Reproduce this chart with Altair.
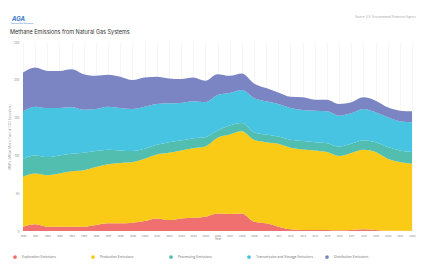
import altair as alt
import pandas as pd

years = list(range(1990, 2023))
series = ["Exploration Emissions", "Production Emissions", "Processing Emissions",
          "Transmission and Storage Emissions", "Distribution Emissions"]
colors = ["#F07070", "#F9CA16", "#52BEB0", "#46C4E2", "#7C85C4"]

exploration = [5.7, 8.8, 5.7, 5.7, 5.7, 5.7, 7.9, 10.1, 10.1, 11.0, 13.2, 16.7, 14.5, 16.7, 17.5,
               18.9, 23.2, 22.4, 23.2, 12.3, 10.1, 5.7, 2.2, 1.3, 1.3, 1.3, 0.9, 1.3, 2.2, 1.3,
               0.4, 0.4, 0.4]
production = [65.8, 67.1, 68.0, 70.2, 73.2, 74.6, 76.7, 78.1, 79.8, 80.2, 82.4, 84.6, 89.0, 89.9,
              92.1, 92.9, 100.0, 105.2, 108.8, 108.3, 107.4, 109.7, 107.9, 106.6, 105.3, 103.1,
              98.2, 101.8, 105.3, 103.1, 95.2, 90.8, 88.6]
processing = [24.1, 24.1, 24.1, 24.1, 23.3, 23.2, 21.1, 19.3, 16.7, 14.5, 13.2, 12.7, 14.0, 13.1,
              13.2, 12.3, 9.7, 11.9, 11.0, 10.1, 10.1, 9.6, 10.5, 11.0, 10.9, 11.8, 12.7, 12.3,
              12.2, 13.1, 15.4, 15.4, 15.4]
transmission = [62.7, 64.5, 64.9, 62.7, 61.4, 57.0, 55.7, 57.0, 56.1, 55.7, 55.7, 54.0, 51.4, 49.6,
                48.7, 46.1, 46.9, 43.0, 43.4, 45.2, 43.9, 43.0, 42.1, 41.2, 41.7, 42.1, 40.8, 40.3,
                41.7, 39.5, 39.4, 38.6, 39.5]
distribution = [51.3, 51.7, 49.1, 49.1, 50.4, 47.0, 43.9, 42.1, 41.3, 38.2, 38.5, 36.0, 32.8, 31.6,
                31.5, 28.5, 27.7, 22.8, 21.9, 19.3, 17.5, 15.3, 14.9, 16.7, 14.5, 15.4, 15.4, 14.5,
                15.4, 15.4, 13.2, 14.0, 14.4]

rows = []
for i, (name, vals) in enumerate(zip(series, [exploration, production, processing,
                                              transmission, distribution])):
    for y, v in zip(years, vals):
        rows.append({"Year": y, "Source": name, "Value": v, "idx": i})
df = pd.DataFrame(rows)

FONT = "Inter"

area = alt.Chart(df).mark_area(interpolate="monotone", opacity=1).encode(
    x=alt.X("Year:Q", scale=alt.Scale(domain=[1990, 2022], nice=False, zero=False),
            axis=alt.Axis(values=years, format="d", labelFontSize=2.6, labelColor="#888",
                          labelOverlap=False, labelFlush=False,
                          tickSize=0, domain=False, grid=True, gridColor="#EDEDED",
                          gridWidth=0.5, labelPadding=3, title="Year", titleFontSize=3,
                          titleFontWeight="normal", titleColor="#888", titlePadding=1,
                          labelFont=FONT, titleFont=FONT)),
    y=alt.Y("Value:Q", stack="zero", scale=alt.Scale(domain=[0, 250], nice=False),
            axis=alt.Axis(values=[0, 50, 100, 150, 200, 250], labelFontSize=3,
                          labelColor="#888", tickSize=0, domain=False, grid=False,
                          labelPadding=4, title="MMTs (Million Metric Tons of CO2 Equivalent)",
                          titleFontSize=3, titleFontWeight="normal", titleColor="#999",
                          titlePadding=2, labelFont=FONT, titleFont=FONT)),
    color=alt.Color("Source:N", scale=alt.Scale(domain=series, range=colors),
                    legend=alt.Legend(orient="none", legendX=-10, legendY=213,
                                      direction="horizontal", columns=5, title=None,
                                      symbolType="circle", symbolSize=14, symbolStrokeWidth=0,
                                      labelFontSize=3.3, labelColor="#777", labelFont=FONT,
                                      columnPadding=12, gridAlign="all", labelOffset=5,
                                      labelLimit=200)),
    order=alt.Order("idx:Q", sort="ascending"),
)

title_df = pd.DataFrame({"t": ["Methane Emissions from Natural Gas Systems"]})
title = alt.Chart(title_df).mark_text(align="left", baseline="middle", fontSize=5.5,
                                      color="#333333", font=FONT).encode(
    x=alt.value(-13), y=alt.value(-10), text="t:N")

ann = pd.DataFrame({"t": ["Source: U.S. Environmental Protection Agency"]})
source = alt.Chart(ann).mark_text(align="right", baseline="middle", fontSize=2.8,
                                  color="#AAAAAA", font=FONT).encode(
    x=alt.value(393), y=alt.value(-25.5), text="t:N")

logo_df = pd.DataFrame({"t": ["AGA"]})
logo = alt.Chart(logo_df).mark_text(align="left", baseline="middle", fontSize=6,
                                    fontStyle="italic", fontWeight="bold", color="#3A78C4",
                                    font=FONT).encode(
    x=alt.value(-11), y=alt.value(-23), text="t:N")
logo_sub_df = pd.DataFrame({"t": ["American Gas Association"]})
logo_sub = alt.Chart(logo_sub_df).mark_text(align="left", baseline="middle", fontSize=1.8,
                                            color="#3A78C4", font=FONT).encode(
    x=alt.value(-12), y=alt.value(-19.5), text="t:N")

chart = alt.layer(area, title, source, logo, logo_sub).properties(
    width=389, height=189,
    autosize=alt.AutoSizeParams(type="none"),
    padding={"left": 15, "top": 34, "right": 5, "bottom": 28},
    background="white",
).configure_view(stroke=None)

chart.save("out.html", embed_options={"renderer": "svg", "actions": False})
